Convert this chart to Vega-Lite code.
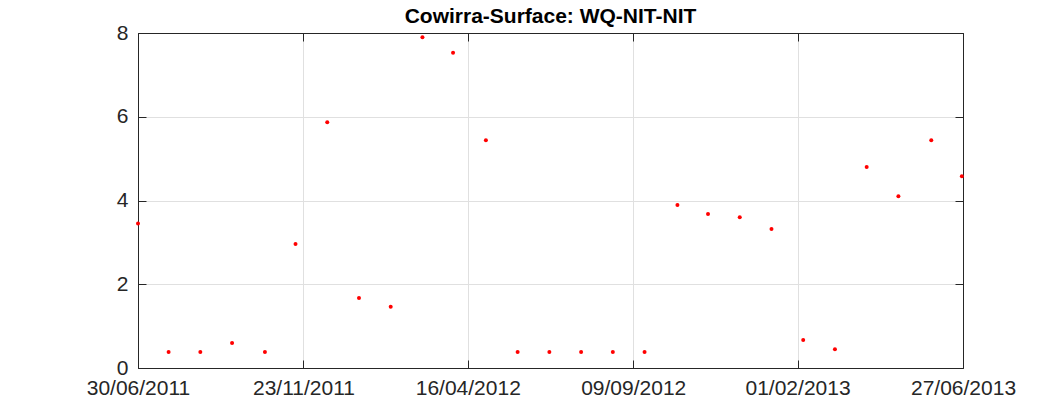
{
  "$schema": "https://vega.github.io/schema/vega-lite/v6.json",
  "autosize": {"type": "none"},
  "padding": {"left": 138, "top": 33, "right": 100, "bottom": 45},
  "width": 825,
  "height": 335,
  "background": "white",
  "title": {
    "text": "Cowirra-Surface: WQ-NIT-NIT",
    "font": "Liberation Sans",
    "fontSize": 21,
    "fontWeight": "bold",
    "color": "black",
    "anchor": "middle",
    "offset": -5
  },
  "data": {
    "values": [
      {"date": "2011/06/30", "value": 3.45},
      {"date": "2011/07/27", "value": 0.38},
      {"date": "2011/08/24", "value": 0.38},
      {"date": "2011/09/21", "value": 0.6},
      {"date": "2011/10/20", "value": 0.38},
      {"date": "2011/11/16", "value": 2.96},
      {"date": "2011/12/14", "value": 5.87},
      {"date": "2012/01/11", "value": 1.67},
      {"date": "2012/02/08", "value": 1.46},
      {"date": "2012/03/07", "value": 7.9},
      {"date": "2012/04/03", "value": 7.53},
      {"date": "2012/05/02", "value": 5.44},
      {"date": "2012/05/30", "value": 0.38},
      {"date": "2012/06/27", "value": 0.38},
      {"date": "2012/07/25", "value": 0.38},
      {"date": "2012/08/22", "value": 0.38},
      {"date": "2012/09/19", "value": 0.38},
      {"date": "2012/10/18", "value": 3.89},
      {"date": "2012/11/14", "value": 3.68},
      {"date": "2012/12/12", "value": 3.6},
      {"date": "2013/01/09", "value": 3.32},
      {"date": "2013/02/06", "value": 0.67},
      {"date": "2013/03/06", "value": 0.45},
      {"date": "2013/04/03", "value": 4.8},
      {"date": "2013/05/01", "value": 4.1},
      {"date": "2013/05/30", "value": 5.44},
      {"date": "2013/06/26", "value": 4.58}
    ]
  },
  "encoding": {
    "x": {
      "field": "date",
      "type": "temporal",
      "scale": {
        "domain": [
          {"year": 2011, "month": 6, "date": 30},
          {"year": 2013, "month": 6, "date": 27}
        ]
      }
    },
    "y": {
      "field": "value",
      "type": "quantitative",
      "scale": {"domain": [0, 8], "nice": false}
    }
  },
  "layer": [
    {
      "mark": {"type": "point", "filled": true, "color": "red", "size": 16, "opacity": 1},
      "encoding": {
        "x": {
          "field": "date",
          "type": "temporal",
          "axis": {
            "title": null,
            "format": "%d/%m/%Y",
            "values": [
              {"year": 2011, "month": 6, "date": 30},
              {"year": 2011, "month": 11, "date": 23},
              {"year": 2012, "month": 4, "date": 16},
              {"year": 2012, "month": 9, "date": 9},
              {"year": 2013, "month": 2, "date": 1},
              {"year": 2013, "month": 6, "date": 27}
            ],
            "labelFlush": false,
            "labelOverlap": false,
            "labelPadding": 17
          }
        },
        "y": {
          "field": "value",
          "type": "quantitative",
          "axis": {"title": null, "values": [0, 2, 4, 6, 8], "labelPadding": 18}
        }
      }
    },
    {
      "mark": {"type": "point", "opacity": 0},
      "encoding": {
        "x": {
          "field": "date",
          "type": "temporal",
          "axis": {
            "orient": "top",
            "title": null,
            "labels": false,
            "grid": false,
            "values": [
              {"year": 2011, "month": 6, "date": 30},
              {"year": 2011, "month": 11, "date": 23},
              {"year": 2012, "month": 4, "date": 16},
              {"year": 2012, "month": 9, "date": 9},
              {"year": 2013, "month": 2, "date": 1},
              {"year": 2013, "month": 6, "date": 27}
            ]
          }
        },
        "y": {
          "field": "value",
          "type": "quantitative",
          "axis": {"orient": "right", "title": null, "labels": false, "grid": false, "values": [0, 2, 4, 6, 8]}
        }
      }
    }
  ],
  "resolve": {"axis": {"x": "independent", "y": "independent"}},
  "config": {
    "view": {"stroke": "#262626", "strokeWidth": 1},
    "axis": {
      "labelFont": "Liberation Sans",
      "labelFontSize": 21,
      "labelColor": "#262626",
      "domainColor": "#262626",
      "tickColor": "#262626",
      "tickSize": -8,
      "gridColor": "#e0e0e0",
      "gridOpacity": 1
    }
  }
}
